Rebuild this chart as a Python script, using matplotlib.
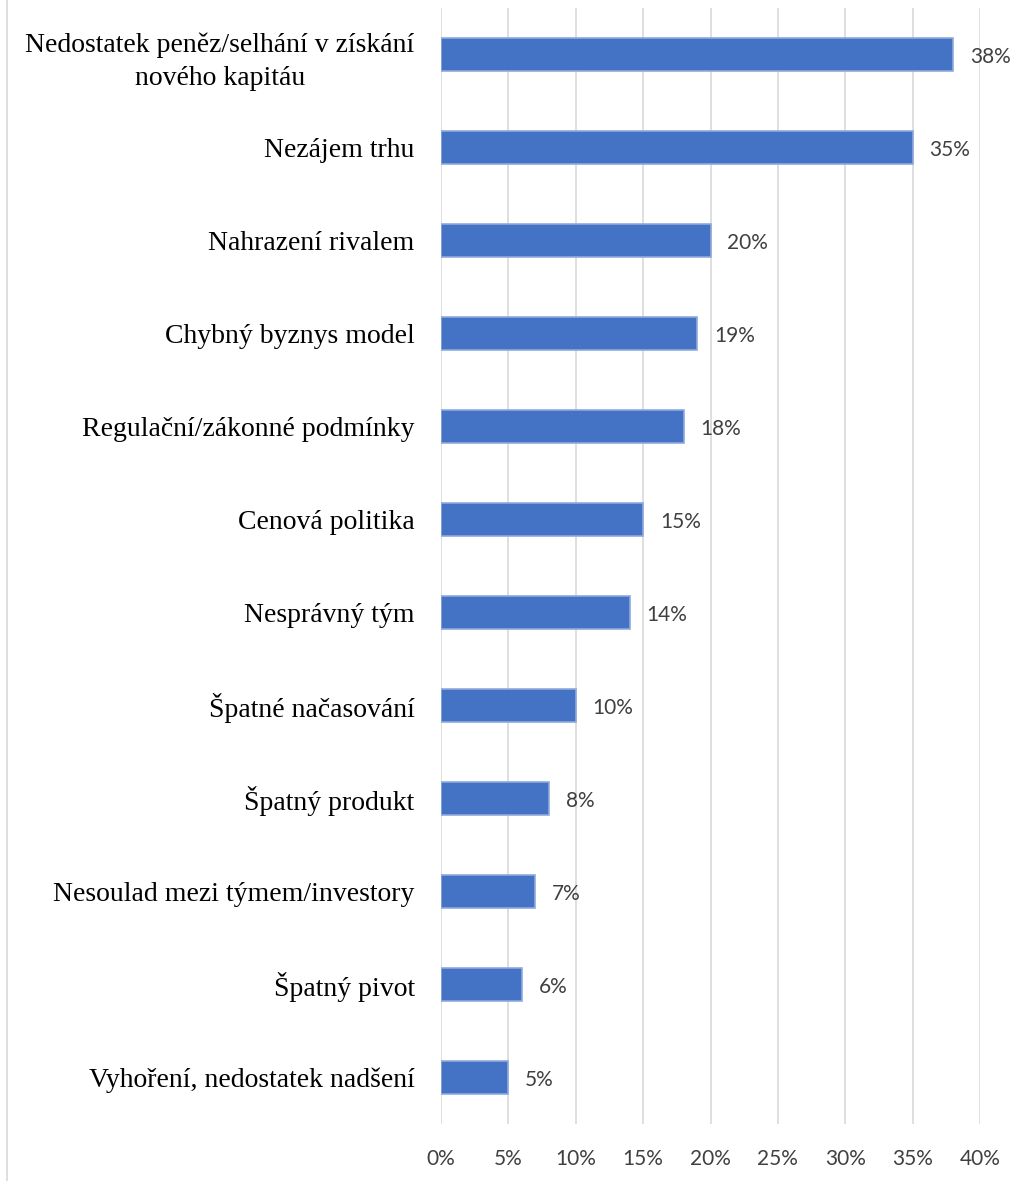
import matplotlib
matplotlib.use("Agg")
import matplotlib.pyplot as plt
from matplotlib.lines import Line2D
from matplotlib.ticker import FuncFormatter

# data, top to bottom as in the chart
reasons = [
    "Nedostatek peněz/selhání v získání\nnového kapitáu",
    "Nezájem trhu",
    "Nahrazení rivalem",
    "Chybný byznys model",
    "Regulační/zákonné podmínky",
    "Cenová politika",
    "Nesprávný tým",
    "Špatné načasování",
    "Špatný produkt",
    "Nesoulad mezi týmem/investory",
    "Špatný pivot",
    "Vyhoření, nedostatek nadšení",
]
shares = [38, 35, 20, 19, 18, 15, 14, 10, 8, 7, 6, 5]
x_ticks = [0, 5, 10, 15, 20, 25, 30, 35, 40]

BAR = "#4472C4"
EDGE = "#8FAADC"
GRID = "#D9D9D9"
TXT = "#404040"
SANS = ["Lato", "DejaVu Sans"]
SERIF = ["Liberation Serif", "DejaVu Serif"]

fig = plt.figure(figsize=(10.2, 11.81), dpi=100)
ax = fig.add_axes([0.4324, 0.0483, 0.5284, 0.9449])

ypos = list(range(len(reasons)))
ax.barh(ypos, shares, height=0.355, color=BAR, edgecolor=EDGE, linewidth=1.2, zorder=3)

for y, v in zip(ypos, shares):
    ax.text(v + 1.25, y + 0.03, f"{v}%", va="center", ha="left",
            fontsize=15, color=TXT, family=SANS)

ax.set_ylim(len(reasons) - 0.5, -0.5)
ax.set_xlim(0, 40)
ax.set_xticks(x_ticks)
ax.xaxis.set_major_formatter(FuncFormatter(lambda v, p: f"{v:.0f}%"))
ax.set_yticks(ypos)
ax.set_yticklabels(reasons, family=SERIF, fontsize=20, color="black",
                   multialignment="center", linespacing=1.45)

ax.tick_params(axis="y", length=0, pad=19)
ax.tick_params(axis="x", length=0, pad=18, labelsize=15, labelcolor=TXT)
for lbl in ax.get_xticklabels():
    lbl.set_family(SANS)

ax.grid(axis="x", color=GRID, linewidth=1.2, zorder=0)
ax.grid(axis="y", visible=False)
for s in ax.spines.values():
    s.set_visible(False)

# thin chart-area border on the left
fig.add_artist(Line2D([0.0072, 0.0072], [0, 1], transform=fig.transFigure,
                      color=GRID, linewidth=1.2))

fig.savefig("out.png", dpi=100)
